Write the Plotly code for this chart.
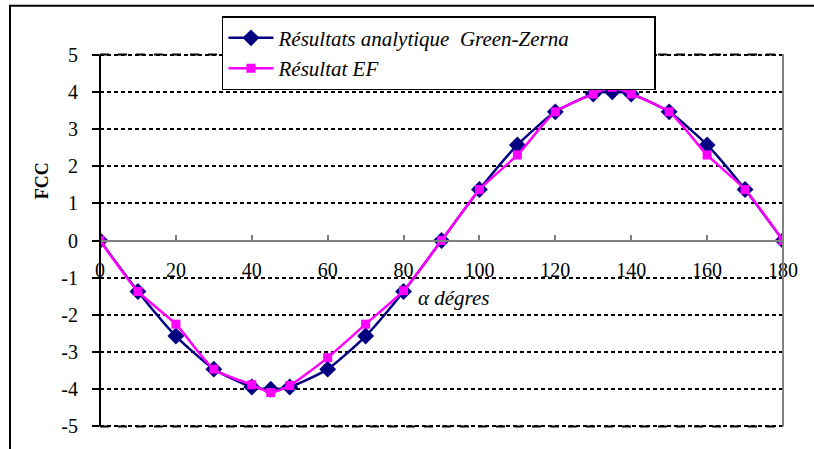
import plotly.graph_objects as go

# Angle alpha (degrees) and FCC values for both methods
alpha = [0, 10, 20, 30, 40, 45, 50, 60, 70, 80, 90, 100, 110, 120, 130, 135, 140, 150, 160, 170, 180]
fcc_green_zerna = [0, -1.37, -2.57, -3.46, -3.94, -4.0, -3.94, -3.46, -2.57, -1.37, 0,
                   1.37, 2.57, 3.46, 3.94, 4.0, 3.94, 3.46, 2.57, 1.37, 0]
fcc_ef = [0, -1.37, -2.25, -3.46, -3.88, -4.09, -3.9, -3.15, -2.25, -1.35, 0,
          1.37, 2.3, 3.46, 3.94, 4.12, 3.94, 3.46, 2.3, 1.37, 0]

x_ticks = list(range(0, 181, 20))
y_ticks = list(range(-5, 6))

SERIF = "Liberation Serif"
PAD = 0.07  # headroom above 5 and below -5

fig = go.Figure()
fig.add_trace(go.Scatter(
    x=alpha, y=fcc_green_zerna, mode="lines+markers",
    name="<i>Résultats analytique\u00a0 Green-Zerna</i>" + "\u00a0" * 15,
    line=dict(color="#000080", width=2.5, shape="spline", smoothing=0.6),
    marker=dict(symbol="diamond", size=13, color="#000080"),
))
fig.add_trace(go.Scatter(
    x=alpha, y=fcc_ef, mode="lines+markers",
    name="<i>Résultat EF</i>",
    line=dict(color="#FF00FF", width=2.5, shape="spline", smoothing=0.6),
    marker=dict(symbol="square", size=9, color="#FF00FF"),
))

# dashed lines along the -5 and 5 edges of the value range
edge_lines = [
    dict(type="line", xref="paper", yref="y", x0=0, x1=1, y0=v, y1=v,
         line=dict(color="black", width=2, dash="dash"), layer="above")
    for v in (y_ticks[0], y_ticks[-1])
]

fig.update_layout(
    width=814, height=449,
    margin=dict(l=100, r=31, t=52, b=18),
    paper_bgcolor="white", plot_bgcolor="white",
    font=dict(family=SERIF, size=19, color="black"),
    showlegend=True,
    legend=dict(
        x=0.1786, y=1.095, xanchor="left", yanchor="top",
        bgcolor="white", bordercolor="black", borderwidth=1.5,
        font=dict(family=SERIF, size=21, color="black"),
        itemwidth=45, tracegroupgap=0,
    ),
    xaxis=dict(
        range=[0, 180], tickvals=x_ticks, ticktext=[str(v) for v in x_ticks],
        anchor="free", position=0.5,
        showline=True, linecolor="#808080", linewidth=1.5,
        ticks="inside", ticklen=5, tickwidth=1.5, tickcolor="#808080",
        ticklabelstandoff=12,
        showgrid=False, zeroline=False,
        tickfont=dict(family=SERIF, size=20),
    ),
    yaxis=dict(
        range=[-5 - PAD, 5 + PAD], tickvals=y_ticks, ticktext=[str(v) for v in y_ticks],
        showline=False,
        ticks="outside", ticklen=7, tickwidth=1.5, tickcolor="black",
        ticklabelstandoff=10,
        showgrid=True, gridcolor="black", gridwidth=2, griddash="4px,3px",
        zeroline=False,
        tickfont=dict(family=SERIF, size=20),
    ),
    shapes=[
        # outer chart frame
        dict(type="rect", xref="paper", yref="paper",
             x0=-0.1318, x1=1.2, y0=-0.2, y1=1.123,
             line=dict(color="black", width=2), layer="below"),
        # value axis line, spanning -5..5
        dict(type="line", xref="paper", yref="y",
             x0=0, x1=0, y0=-5, y1=5,
             line=dict(color="black", width=2)),
        # right edge of the plot area
        dict(type="line", xref="paper", yref="y",
             x0=1, x1=1, y0=-5, y1=5,
             line=dict(color="#808080", width=2)),
    ] + edge_lines,
    annotations=[
        dict(text="<b>FCC</b>", xref="paper", yref="paper",
             x=-0.085, y=0.66,
             xanchor="center", yanchor="middle", textangle=-90,
             showarrow=False, font=dict(family=SERIF, size=18)),
        dict(text="<i>α dégres</i>", xref="x", yref="y",
             x=83.3, y=-1.55, xanchor="left", yanchor="middle",
             showarrow=False, font=dict(family=SERIF, size=21)),
    ],
)

fig.write_html("out.html")
